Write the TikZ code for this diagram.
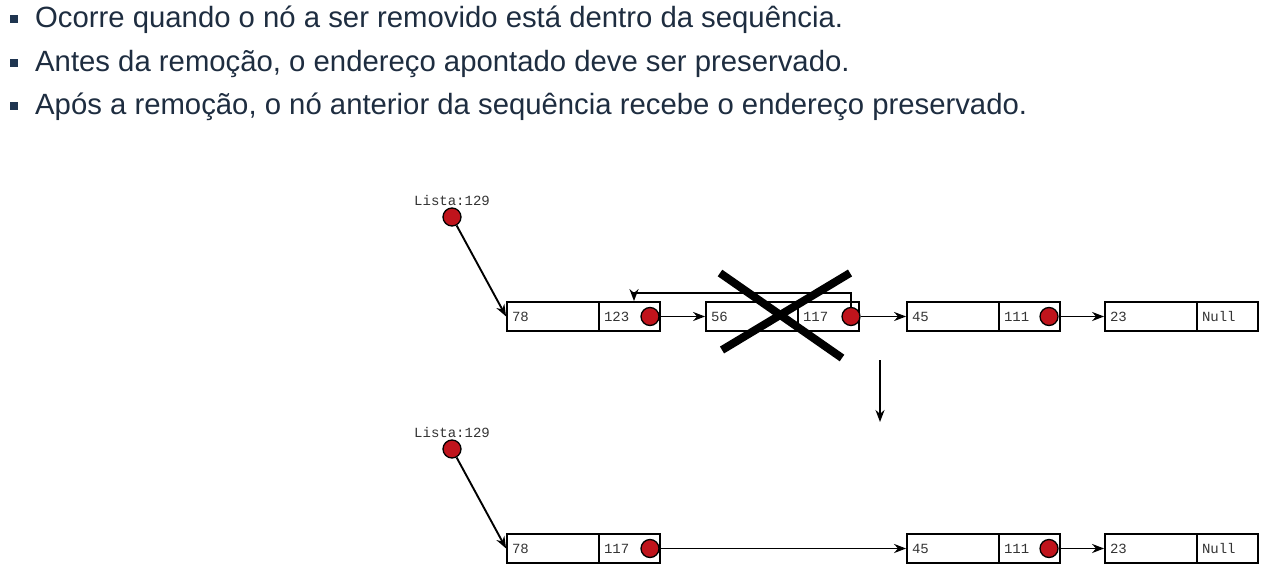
\documentclass[tikz,border=0pt]{standalone}
\usepackage{fontspec}
\setmainfont{Liberation Sans}
\newfontfamily\monofnt{Liberation Mono}
\usetikzlibrary{arrows.meta,calc}
\definecolor{navy}{HTML}{1E2D40}
\definecolor{bulletc}{HTML}{1F3550}
\definecolor{dotred}{HTML}{C0141C}
\definecolor{celltxt}{HTML}{333333}
\tikzset{
  bul/.style={fill=bulletc,minimum size=8pt,inner sep=0pt},
  btxt/.style={anchor=west,text=navy,inner sep=0pt,font=\fontsize{29.3}{34}\selectfont},
  cellL/.style={draw,line width=1.8pt,minimum height=29pt,text width=82pt,inner xsep=5pt,inner ysep=0pt,align=left,font=\monofnt\fontsize{14}{16}\selectfont,text=celltxt},
  cellR/.style={cellL,text width=51pt},
  dot/.style={circle,draw,line width=1.3pt,fill=dotred,minimum size=18pt,inner sep=0pt},
  lbl/.style={font=\monofnt\fontsize{14}{16}\selectfont,text=celltxt,inner sep=0pt},
  arr/.style={line width=1.9pt,-{Stealth[length=12pt,width=9pt]}},
  cross/.style={line width=8pt}
}
\begin{document}
\begin{tikzpicture}[x=1pt,y=-1pt]
\useasboundingbox (0,0) rectangle (1265,575);
% bullets
\node[bul] (b1) at (14,19) {};
\node[bul] (b2) at (14,63) {};
\node[bul] (b3) at (14,106) {};
\node[btxt] (t1) at (35,20) {Ocorre quando o nó a ser removido está dentro da sequência.};
\node[btxt] (t2) at (35,64) {Antes da remoção, o endereço apontado deve ser preservado.};
\node[btxt] (t3) at (35,107) {Após a remoção, o nó anterior da sequência recebe o endereço preservado.};
% ---- top list
\node[lbl] (L1) at (452,200) {Lista:129};
\node[dot] (d0) at (452,217) {};
\node[cellL] (a1) at (553,316.5) {78};
\node[cellR] (a2) at (629.5,316.5) {123};
\node[dot] (d1) at (650,316.5) {};
\node[cellL] (b1c) at (752,316.5) {56};
\node[cellR] (b2c) at (828.5,316.5) {117};
\node[dot] (d2) at (851,316.5) {};
\node[cellL] (c1) at (953,316.5) {45};
\node[cellR] (c2) at (1029.5,316.5) {111};
\node[dot] (d3) at (1049,316.5) {};
\node[cellL] (e1) at (1151,316.5) {23};
\node[cellR] (e2) at (1227.5,316.5) {Null};
\draw[arr] (d0) -- (a1.west);
\draw[arr] (d1) -- (b1c.west);
\draw[arr] (d2) -- (c1.west);
\draw[arr] (d3) -- (e1.west);
\coordinate (fb) at (634,293);
\draw[arr] (d2.north) |- (fb) -- (fb |- a2.north);
% cross
\draw[cross] (720,273) -- (842,358);
\draw[cross] (850,273) -- (722,350);
% down arrow
\coordinate (ds) at (880,360);
\coordinate (de) at (880,422);
\draw[arr] (ds) -- (de);
% ---- bottom list
\node[lbl] (L2) at (452,432) {Lista:129};
\node[dot] (f0) at (452,449) {};
\node[cellL] (g1) at (553,548.5) {78};
\node[cellR] (g2) at (629.5,548.5) {117};
\node[dot] (f1) at (650,548.5) {};
\node[cellL] (h1) at (953,548.5) {45};
\node[cellR] (h2) at (1029.5,548.5) {111};
\node[dot] (f2) at (1049,548.5) {};
\node[cellL] (k1) at (1151,548.5) {23};
\node[cellR] (k2) at (1227.5,548.5) {Null};
\draw[arr] (f0) -- (g1.west);
\draw[arr] (f1) -- (h1.west);
\draw[arr] (f2) -- (k1.west);
\end{tikzpicture}
\end{document}
